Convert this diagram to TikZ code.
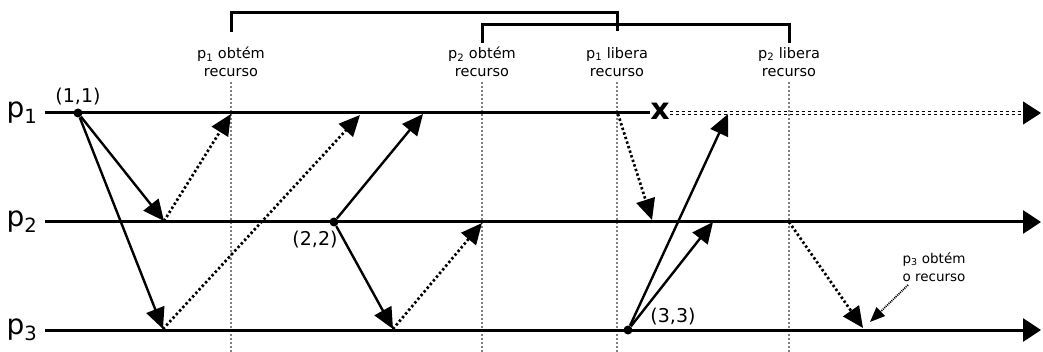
\documentclass[tikz,border=0pt]{standalone}
\usepackage{fontspec}
\setmainfont{DejaVu Sans}
\usetikzlibrary{arrows.meta}

\begin{document}
\begin{tikzpicture}[x=1pt,y=-1pt,
    timeline/.style={line width=3pt,-{Triangle[length=18pt,width=23pt]}},
    msg/.style={line width=2.4pt,-{Triangle[length=21pt,width=19pt]}},
    ack/.style={line width=2.7pt,dash pattern=on 2.4pt off 2.4pt,-{Triangle[length=21pt,width=19pt]}},
    cut/.style={black!50,line width=2.2pt,dash pattern=on 2pt off 2pt},
    bracket/.style={line width=3pt},
    note/.style={font=\fontsize{14.5}{18}\selectfont,align=center},
    proc/.style={font=\fontsize{28}{28}\selectfont},
    stamp/.style={font=\fontsize{19}{19}\selectfont},
    evt/.style={circle,fill,inner sep=0pt,minimum size=9pt}]
    \useasboundingbox (0,0) rectangle (1043,352);
    \def\ya{113}\def\yb{222}\def\yc{330}
    % processes
    \node[proc] (lp1) at (22,\ya) {p\textsubscript{1}};
    \node[proc] (lp2) at (22,\yb) {p\textsubscript{2}};
    \node[proc] (lp3) at (22,\yc) {p\textsubscript{3}};
    \coordinate (b1) at (45,\ya);  \coordinate (b2) at (45,\yb);  \coordinate (b3) at (45,\yc);
    \coordinate (f1) at (1041,\ya); \coordinate (f2) at (1041,\yb); \coordinate (f3) at (1041,\yc);
    % resource events, cut lines
    \node[note] (ob1) at (231,62) {p\textsubscript{1} obtém\\recurso};
    \node[note] (ob2) at (482,62) {p\textsubscript{2} obtém\\recurso};
    \node[note] (lb1) at (617,62) {p\textsubscript{1} libera\\recurso};
    \node[note] (lb2) at (789,62) {p\textsubscript{2} libera\\recurso};
    \foreach \n/\x in {ob1/231,ob2/482,lb1/617,lb2/789}
      \draw[cut] (\x,82) -- (\x,352);
    \draw[bracket] (231,32) -- (231,13) -- (617,13) -- (617,31);
    \draw[bracket] (482,43) -- (482,25) -- (789,25) -- (789,43);
    % time lines
    \node[font=\bfseries\fontsize{30}{30}\selectfont,inner sep=0pt] (xm) at (660,111) {x};
    \draw[line width=3pt] (b1) -- (xm.west |- b1);
    \coordinate (f1a) at (1024,\ya);
    \draw[dashed,double,double distance=2.2pt,line width=1pt] (xm.east |- b1) -- (f1a);
    \draw[-{Triangle[length=18pt,width=23pt]},line width=1pt] (f1a) -- (f1);
    \draw[timeline] (b2) -- (f2);
    \draw[timeline] (b3) -- (f3);
    % checkpoints
    \node[evt] (e11) at (78,\ya) {};
    \node[evt] (e22) at (334,\yb) {};
    \node[evt] (e33) at (628,\yc) {};
    \node[stamp] (t11) at (78,97) {(1,1)};
    \node[stamp] (t22) at (315,240) {(2,2)};
    \node[stamp] (t33) at (673,317) {(3,3)};
    % message ends
    \coordinate (r12) at (164,221); \coordinate (r13) at (163,329);
    \coordinate (r21) at (423,114); \coordinate (r23) at (393,329);
    \coordinate (r31) at (728,114); \coordinate (r32) at (713,222);
    \coordinate (a1) at (231,114); \coordinate (a2) at (360,115);
    \coordinate (a3) at (482,223); \coordinate (a4) at (652,220);
    \coordinate (a5) at (863,328);
    \coordinate (q1) at (618,114); \coordinate (q2) at (789,222);
    % markers
    \draw[msg] (e11) -- (r12);
    \draw[msg] (e11) -- (r13);
    \draw[msg] (e22) -- (r21);
    \draw[msg] (e22) -- (r23);
    \draw[msg] (e33) -- (r31);
    \draw[msg] (e33) -- (r32);
    % resource token
    \draw[ack] (r12) -- (a1);
    \draw[ack] (r13) -- (a2);
    \draw[ack] (r23) -- (a3);
    \draw[ack] (q1) -- (a4);
    \draw[ack] (q2) -- (a5);
    \node[note,font=\fontsize{13.5}{18}\selectfont] (got3) at (934,267) {p\textsubscript{3} obtém\\o recurso};
    \coordinate (g3) at (870,322);
    \draw[line width=1.8pt,dash pattern=on 1pt off 1pt,-{Triangle[length=15pt,width=12pt]}]
      (908,285) -- (g3);
\end{tikzpicture}
\end{document}
